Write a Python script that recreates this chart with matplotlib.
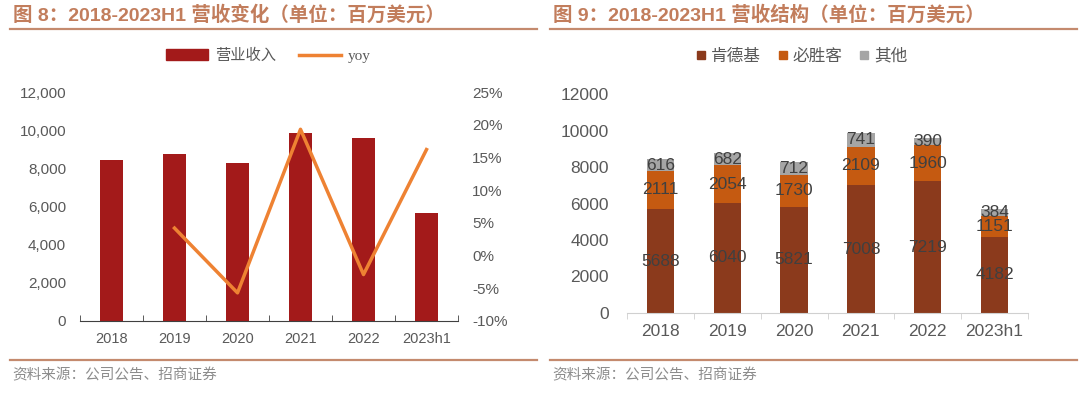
import matplotlib
matplotlib.use("Agg")
import matplotlib.pyplot as plt
from matplotlib.lines import Line2D
from matplotlib.patches import Patch
from matplotlib.ticker import FuncFormatter, FixedLocator

plt.rcParams['font.family'] = ['Liberation Sans', 'Noto Sans CJK SC', 'DejaVu Sans']

years = ["2018", "2019", "2020", "2021", "2022", "2023h1"]
kfc = [5688, 6040, 5821, 7008, 7219, 4182]
pizza_hut = [2111, 2054, 1730, 2109, 1960, 1151]
others = [616, 682, 712, 741, 390, 384]
revenue = [8415, 8776, 8263, 9858, 9569, 5645]
yoy = [None, 4.2, -5.7, 19.3, -2.9, 16.2]

TITLE_C = "#C27D5C"
RULE_C = "#C48A6E"
TICK_C = "#595959"
SRC_C = "#8C8C8C"

fig = plt.figure(figsize=(10.8, 3.97), dpi=100)


def frame(x0, x1, title):
    fig.text(x0 + 3 / 1080, 1 - 15 / 397, title, fontsize=14, fontweight="bold",
             color=TITLE_C, va="center", ha="left")
    fig.add_artist(Line2D([x0, x1], [1 - 29 / 397] * 2, color=RULE_C, lw=1.6))
    fig.add_artist(Line2D([x0, x1], [1 - 360 / 397] * 2, color=RULE_C, lw=1.6))
    fig.text(x0 + 2 / 1080, 1 - 375 / 397, "资料来源：公司公告、招商证券", fontsize=10.5,
             color=SRC_C, va="center", ha="left")


frame(10 / 1080, 537 / 1080, "图 8：2018-2023H1 营收变化（单位：百万美元）")
frame(550 / 1080, 1077 / 1080, "图 9：2018-2023H1 营收结构（单位：百万美元）")

# ---- left chart: revenue + yoy
ax = fig.add_axes([80 / 1080, 1 - 321 / 397, 378 / 1080, 229 / 397])
x = list(range(len(years)))
ax.bar(x, revenue, width=0.35, color="#A31A1A", zorder=2)
ax.set_xlim(-0.5, len(years) - 0.5)
ax.set_ylim(0, 12000)
ax.set_yticks(range(0, 12001, 2000))
ax.yaxis.set_major_formatter(FuncFormatter(lambda v, p: f"{int(v):,}"))
ax.set_xticks(x)
ax.set_xticklabels(years)
ax.xaxis.set_minor_locator(FixedLocator([i - 0.5 for i in range(len(years) + 1)]))
ax.tick_params(axis="x", which="major", length=0, pad=8, labelsize=10.5, colors=TICK_C)
ax.tick_params(axis="x", which="minor", length=4, direction="in", color="#404040")
ax.tick_params(axis="y", length=0, pad=10, labelsize=11, colors=TICK_C)
for s in ["top", "right", "left"]:
    ax.spines[s].set_visible(False)
ax.spines["bottom"].set_color("#404040")

ax2 = ax.twinx()
ax2.plot(x[1:], yoy[1:], color="#EE8233", lw=2.5, zorder=3)
ax2.set_ylim(-10, 25)
ax2.set_yticks(range(-10, 26, 5))
ax2.yaxis.set_major_formatter(FuncFormatter(lambda v, p: f"{int(v)}%"))
ax2.tick_params(axis="y", length=0, pad=10, labelsize=11, colors=TICK_C)
for s in ax2.spines.values():
    s.set_visible(False)

leg = fig.legend(handles=[Patch(color="#A31A1A", label="营业收入"),
                          Line2D([], [], color="#EE8233", lw=2.5, label="yoy")],
                 loc="center", bbox_to_anchor=(268 / 1080, 1 - 56 / 397), ncol=2,
                 frameon=False, fontsize=11, handlelength=2.8, handleheight=0.7,
                 handletextpad=0.4, columnspacing=1.5, labelcolor=TICK_C)
leg.get_texts()[1].set_family(["Liberation Serif"])

# ---- right chart: revenue structure
bx = fig.add_axes([627 / 1080, 1 - 313 / 397, 401 / 1080, 219 / 397])
cols = ["#8B3A1C", "#C55A11", "#A5A5A5"]
bottoms = [0] * len(years)
for vals, c in zip([kfc, pizza_hut, others], cols):
    bars = bx.bar(x, vals, width=0.41, bottom=bottoms, color=c, zorder=2)
    bx.bar_label(bars, labels=[str(v) for v in vals], label_type="center",
                 fontsize=12.5, color="#404040")
    bottoms = [b + v for b, v in zip(bottoms, vals)]
bx.set_xlim(-0.5, len(years) - 0.5)
bx.set_ylim(0, 12000)
bx.set_yticks(range(0, 12001, 2000))
bx.set_xticks(x)
bx.set_xticklabels(years)
bx.xaxis.set_minor_locator(FixedLocator([i - 0.5 for i in range(len(years) + 1)]))
bx.tick_params(axis="x", which="major", length=0, pad=8, labelsize=12.5, colors=TICK_C)
bx.tick_params(axis="x", which="minor", length=4, direction="out", color="#D0D0D0")
bx.tick_params(axis="y", length=0, pad=13, labelsize=12.5, colors=TICK_C)
for s in ["top", "right", "left"]:
    bx.spines[s].set_visible(False)
bx.spines["bottom"].set_color("#D0D0D0")

fig.legend(handles=[Line2D([], [], ls="", marker="s", ms=6, color=c, label=l)
                    for c, l in zip(cols, ["肯德基", "必胜客", "其他"])],
           loc="center", bbox_to_anchor=(802 / 1080, 1 - 56 / 397), ncol=3,
           frameon=False, fontsize=12, handlelength=0.6, handletextpad=0.3,
           columnspacing=1.0, labelcolor=TICK_C)

fig.savefig("out.png", dpi=100)
